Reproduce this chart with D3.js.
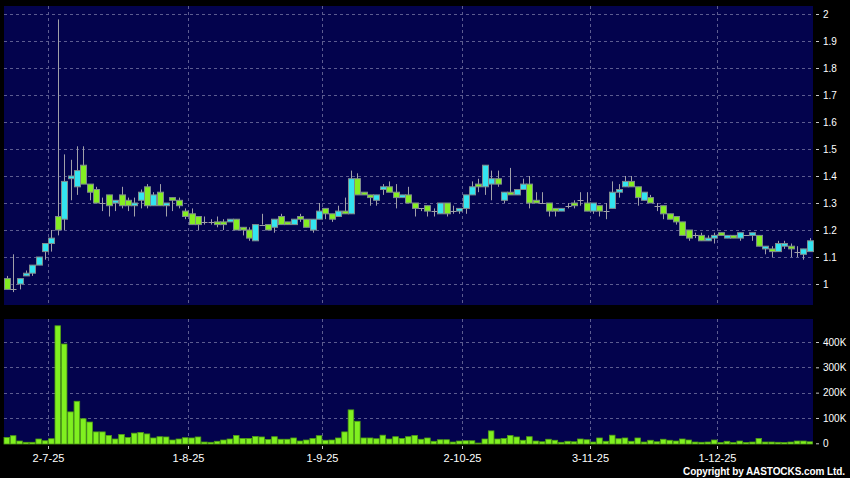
<!DOCTYPE html>
<html>
<head>
<meta charset="utf-8">
<script src="https://cdn.jsdelivr.net/npm/d3@7"></script>
<style>
  html, body { margin: 0; padding: 0; background: #000; }
  svg { display: block; }
</style>
</head>
<body>
<svg id="chart" width="850" height="478"></svg>
<script>
// ---- Data ----
const openP  = [1.02,0.98,1.00,1.03,1.04,1.07,1.12,1.15,1.25,1.24,1.39,1.36,1.44,1.37,1.35,1.30,1.33,1.30,1.33,1.31,
                1.29,1.31,1.36,1.29,1.34,1.29,1.32,1.31,1.27,1.26,1.25,1.23,1.23,1.23,1.23,1.23,1.24,1.21,1.20,1.16,
                1.22,1.22,1.21,1.25,1.23,1.22,1.25,1.24,1.20,1.24,1.28,1.26,1.25,1.27,1.26,1.39,1.34,1.33,1.31,1.35,
                1.36,1.34,1.32,1.33,1.30,1.28,1.29,1.27,1.26,1.30,1.27,1.27,1.28,1.33,1.37,1.36,1.37,1.39,1.31,1.34,
                1.33,1.35,1.37,1.31,1.30,1.30,1.28,1.27,1.29,1.30,1.31,1.30,1.27,1.29,1.27,1.28,1.34,1.36,1.38,1.36,
                1.31,1.32,1.29,1.29,1.26,1.25,1.23,1.20,1.18,1.18,1.16,1.17,1.19,1.17,1.18,1.17,1.18,1.18,1.18,1.13,
                1.13,1.12,1.14,1.14,1.12,1.11,1.12];
const highP  = [1.03,1.11,1.02,1.05,1.07,1.10,1.15,1.20,1.98,1.48,1.46,1.51,1.51,1.37,1.36,1.32,1.33,1.31,1.36,1.32,
                1.32,1.35,1.37,1.34,1.37,1.30,1.32,1.32,1.28,1.28,1.25,1.25,1.24,1.25,1.24,1.24,1.24,1.21,1.21,1.22,
                1.26,1.22,1.24,1.26,1.23,1.24,1.26,1.24,1.24,1.30,1.28,1.26,1.29,1.32,1.42,1.41,1.34,1.33,1.33,1.37,
                1.38,1.37,1.33,1.36,1.30,1.28,1.29,1.28,1.30,1.30,1.29,1.28,1.33,1.38,1.39,1.44,1.42,1.42,1.34,1.43,
                1.35,1.39,1.40,1.34,1.34,1.30,1.28,1.28,1.30,1.31,1.34,1.34,1.30,1.29,1.30,1.38,1.37,1.40,1.40,1.36,
                1.34,1.33,1.30,1.29,1.26,1.25,1.23,1.20,1.19,1.19,1.18,1.19,1.19,1.18,1.18,1.19,1.18,1.19,1.18,1.14,
                1.14,1.16,1.16,1.15,1.14,1.13,1.17];
const lowP   = [0.98,0.97,0.98,1.03,1.03,1.07,1.09,1.12,1.18,1.20,1.31,1.33,1.37,1.31,1.30,1.27,1.25,1.27,1.28,1.27,
                1.25,1.28,1.28,1.29,1.29,1.25,1.27,1.28,1.24,1.22,1.20,1.22,1.22,1.21,1.20,1.23,1.20,1.18,1.16,1.16,
                1.22,1.20,1.19,1.22,1.22,1.22,1.23,1.21,1.19,1.24,1.24,1.23,1.25,1.26,1.26,1.33,1.33,1.29,1.29,1.33,
                1.34,1.28,1.32,1.30,1.25,1.27,1.25,1.25,1.26,1.25,1.26,1.26,1.26,1.33,1.34,1.33,1.31,1.36,1.30,1.33,
                1.33,1.35,1.28,1.30,1.30,1.25,1.25,1.27,1.28,1.28,1.29,1.27,1.26,1.25,1.24,1.28,1.32,1.36,1.36,1.29,
                1.31,1.30,1.27,1.24,1.24,1.22,1.18,1.16,1.17,1.16,1.16,1.15,1.18,1.17,1.17,1.16,1.18,1.16,1.14,1.11,
                1.10,1.12,1.13,1.10,1.10,1.09,1.12];
const closeP = [0.98,0.98,1.02,1.04,1.07,1.10,1.15,1.17,1.20,1.38,1.40,1.42,1.37,1.34,1.30,1.30,1.29,1.31,1.29,1.29,
                1.30,1.34,1.29,1.33,1.29,1.30,1.31,1.29,1.25,1.22,1.22,1.23,1.23,1.22,1.22,1.24,1.20,1.20,1.17,1.22,
                1.22,1.20,1.24,1.22,1.22,1.24,1.24,1.21,1.24,1.27,1.26,1.24,1.27,1.26,1.39,1.33,1.33,1.32,1.33,1.36,
                1.34,1.32,1.33,1.30,1.28,1.28,1.27,1.27,1.30,1.26,1.27,1.28,1.33,1.36,1.36,1.44,1.39,1.37,1.34,1.33,
                1.35,1.37,1.30,1.30,1.30,1.27,1.27,1.28,1.29,1.29,1.31,1.27,1.30,1.27,1.27,1.34,1.35,1.38,1.36,1.32,
                1.34,1.30,1.29,1.26,1.24,1.23,1.18,1.17,1.18,1.16,1.17,1.18,1.18,1.18,1.17,1.19,1.18,1.19,1.14,1.14,
                1.12,1.15,1.15,1.13,1.12,1.13,1.16];
const volumeK = [23,30,9,4,4,17,10,18,464,392,124,166,97,84,45,45,31,17,35,23,
                 40,43,37,21,26,25,13,17,22,21,25,5,4,8,13,17,31,19,19,27,
                 25,15,26,16,16,21,9,13,19,30,12,13,21,45,132,87,21,21,18,32,
                 17,26,19,26,31,16,21,8,14,14,5,9,10,10,1,17,49,17,19,31,
                 25,12,26,9,6,16,12,4,8,6,17,14,5,21,8,32,18,21,8,21,
                 5,12,6,16,12,9,17,13,5,4,5,13,3,8,3,9,3,5,19,5,
                 5,4,3,5,9,9,6];
const priceTickLabels  = ["1","1.1","1.2","1.3","1.4","1.5","1.6","1.7","1.8","1.9","2"];
const volumeTickLabels = ["0","100K","200K","300K","400K"];
const dateTickIndex  = [6,28,49,71,91,111];
const dateTickLabels = ["2-7-25","1-8-25","1-9-25","2-10-25","3-11-25","1-12-25"];

// ---- Layout ----
const svg = d3.select("#chart");
const panelL = 4, panelR = 813;
const mainTop = 6, mainBot = 305;
const volTop = 319, volBot = 444;
const n = closeP.length;

const x = d3.scaleLinear().domain([0, n - 1]).range([6.8, 809.8]);
const y = d3.scaleLinear().domain([1, 2]).range([284, 14]);
const yv = d3.scaleLinear().domain([0, 400000]).range([443.3, 342]);

const panelFill = "#03034d";
const gridColor = "#5c5c90";
const cyan = "#33e4f0";
const green = "#84ee22";

svg.append("rect").attr("width", 850).attr("height", 478).attr("fill", "#000");
svg.append("rect").attr("x", panelL).attr("y", mainTop).attr("width", panelR - panelL)
   .attr("height", mainBot - mainTop).attr("fill", panelFill);
svg.append("rect").attr("x", panelL).attr("y", volTop).attr("width", panelR - panelL)
   .attr("height", volBot - volTop).attr("fill", panelFill);

// gridlines
const grid = svg.append("g").attr("stroke", gridColor).attr("stroke-width", 1)
  .attr("stroke-dasharray", "3,3").attr("shape-rendering", "crispEdges");
priceTickLabels.forEach(t => {
  const yy = Math.round(y(+t)) + 0.5;
  grid.append("line").attr("x1", panelL).attr("x2", panelR).attr("y1", yy).attr("y2", yy);
});
volumeTickLabels.slice(1).forEach((t, i) => {
  const yy = Math.round(yv((i + 1) * 100000)) + 0.5;
  grid.append("line").attr("x1", panelL).attr("x2", panelR).attr("y1", yy).attr("y2", yy);
});
dateTickIndex.forEach(i => {
  const xx = Math.round(x(i + 0.5)) + 0.5;
  grid.append("line").attr("x1", xx).attr("x2", xx).attr("y1", mainTop).attr("y2", mainBot);
  grid.append("line").attr("x1", xx).attr("x2", xx).attr("y1", volTop).attr("y2", volBot);
});

// candles
const data = d3.range(n).map(i => ({i, o: openP[i], h: highP[i], l: lowP[i], c: closeP[i], v: volumeK[i] * 1000}));
const bw = 5;
const cg = svg.append("g");
data.forEach(d => {
  const cx = Math.round(x(d.i)) + 0.5;
  cg.append("line").attr("x1", cx).attr("x2", cx).attr("y1", y(d.h)).attr("y2", y(d.l))
    .attr("stroke", "#a0a0a8").attr("stroke-width", 1);
  if (d.o === d.c) {
    cg.append("line").attr("x1", cx - 3).attr("x2", cx + 3)
      .attr("y1", Math.round(y(d.c)) + 0.5).attr("y2", Math.round(y(d.c)) + 0.5)
      .attr("stroke", "#a0a0a8").attr("stroke-width", 1);
  } else {
    const top = y(Math.max(d.o, d.c)), bot = y(Math.min(d.o, d.c));
    cg.append("rect").attr("x", cx - bw / 2 - 0.5).attr("y", top)
      .attr("width", bw + 1).attr("height", Math.max(bot - top, 1.5))
      .attr("fill", d.c > d.o ? cyan : green)
      .attr("stroke", "#7f8c8c").attr("stroke-width", 1);
  }
});

// volume bars
const vg = svg.append("g");
data.forEach(d => {
  const cx = x(d.i);
  const top = Math.max(yv(d.v), volTop);
  vg.append("rect").attr("x", cx - 2.8).attr("y", top).attr("width", 5.6)
    .attr("height", yv(0) - top + 0.7)
    .attr("fill", "#80f020").attr("stroke", "#4f9e14").attr("stroke-width", 0.8);
});

// right axes
const priceAxis = d3.axisRight(y).tickValues(priceTickLabels.map(Number))
  .tickFormat((d, i) => priceTickLabels[i]).tickSize(3).tickPadding(4);
const pa = svg.append("g").attr("transform", `translate(${panelR + 3},0)`).call(priceAxis);
const volAxis = d3.axisRight(yv).tickValues([0, 100000, 200000, 300000, 400000])
  .tickFormat((d, i) => volumeTickLabels[i]).tickSize(3).tickPadding(4);
const va = svg.append("g").attr("transform", `translate(${panelR + 3},0)`).call(volAxis);
[pa, va].forEach(g => {
  g.select(".domain").remove();
  g.selectAll(".tick line").attr("stroke", "#c8c8c8");
  g.selectAll(".tick text").attr("fill", "#fff")
    .attr("font-family", "Liberation Sans, Arial, sans-serif").attr("font-size", 10);
});

// date axis
const dg = svg.append("g");
dateTickIndex.forEach((i, k) => {
  const xx = Math.round(x(i + 0.5)) + 0.5;
  dg.append("line").attr("x1", xx).attr("x2", xx).attr("y1", volBot + 2).attr("y2", volBot + 5)
    .attr("stroke", "#c8c8c8");
  dg.append("text").attr("x", xx).attr("y", 462).attr("text-anchor", "middle")
    .attr("fill", "#fff").attr("font-family", "Liberation Sans, Arial, sans-serif")
    .attr("font-size", 11).text(dateTickLabels[k]);
});

svg.append("text").attr("x", 845).attr("y", 474.5).attr("text-anchor", "end")
  .attr("fill", "#fff").attr("font-family", "Liberation Sans, Arial, sans-serif")
  .attr("font-size", 10).attr("font-weight", "bold")
  .attr("textLength", 162).attr("lengthAdjust", "spacing")
  .text("Copyright by AASTOCKS.com Ltd.");
</script>
</body>
</html>
